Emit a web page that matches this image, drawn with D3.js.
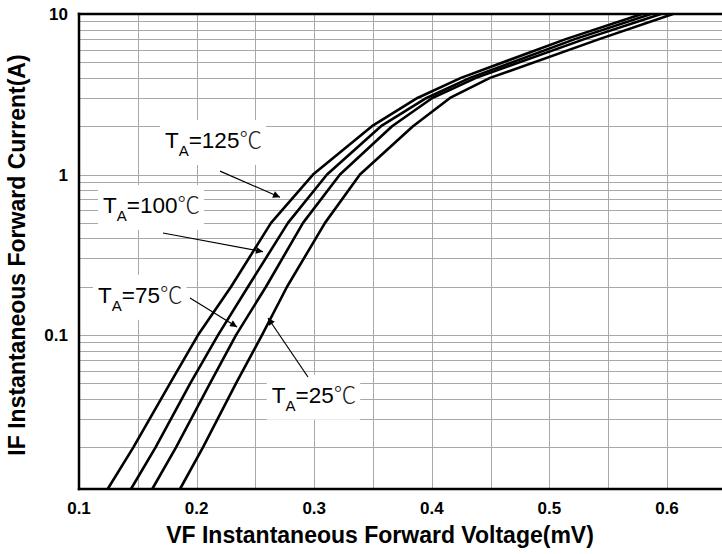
<!DOCTYPE html>
<html>
<head>
<meta charset="utf-8">
<script src="https://cdn.jsdelivr.net/npm/d3@7"></script>
<style>
  html, body { margin: 0; padding: 0; background: #fff; }
  svg { display: block; }
</style>
</head>
<body>
<svg id="chart" width="722" height="554"></svg>
<script>
// ---------------- data ----------------
const currents = [0.011, 0.02, 0.05, 0.1, 0.2, 0.5, 1, 2, 3, 4, 7, 10];
const vf125 = [0.1244, 0.1462, 0.1774, 0.2012, 0.2293, 0.2633, 0.2990, 0.3491, 0.3878, 0.4248, 0.5145, 0.5787];
const vf100 = [0.1442, 0.1651, 0.1946, 0.2182, 0.2437, 0.2777, 0.3109, 0.3568, 0.3955, 0.4325, 0.5222, 0.5864];
const vf75  = [0.1623, 0.1825, 0.2114, 0.2335, 0.2590, 0.2905, 0.3219, 0.3662, 0.4004, 0.4376, 0.5303, 0.5949];
const vf25  = [0.1859, 0.2054, 0.2335, 0.2556, 0.2769, 0.3092, 0.3389, 0.3840, 0.4155, 0.4495, 0.5430, 0.6051];
const seriesTemps = ["125", "100", "75", "25"];

const xTicks = [0.1, 0.2, 0.3, 0.4, 0.5, 0.6];
const xTickLabels = ["0.1", "0.2", "0.3", "0.4", "0.5", "0.6"];
const yTicks = [10, 1, 0.1];
const yTickLabels = ["10", "1", "0.1"];
const xTitle = "VF Instantaneous Forward Voltage(mV)";
const yTitle = "IF Instantaneous Forward Current(A)";

// annotation anchors in data units: [textV, textI, arrowFromV, arrowFromI, arrowToV, arrowToI]
const annotations = [
  [0.1731, 1.464, 0.2199, 1.05, 0.2709, 0.722],
  [0.1204, 0.576, 0.1714, 0.4325, 0.2565, 0.3307],
  [0.1162, 0.159, 0.1944, 0.1702, 0.2344, 0.1123],
  [0.2639, 0.0379, 0.2947, 0.0548, 0.2607, 0.1278]
];

// ---------------- layout ----------------
const L = 79, T = 14, B = 489;
const x = d3.scaleLinear().domain([0.1, 0.65]).range([L, L + 0.55 * 1176]);
const y = d3.scaleLog().domain([0.011, 10]).range([B, T]);
const R = x(0.65);

const svg = d3.select("#chart");
const font = "'Liberation Sans', Arial, Helvetica, sans-serif";

svg.append("defs").append("marker")
  .attr("id", "ah").attr("viewBox", "0 0 10 10")
  .attr("refX", 10).attr("refY", 5)
  .attr("markerWidth", 11).attr("markerHeight", 7)
  .attr("markerUnits", "userSpaceOnUse")
  .attr("orient", "auto")
  .append("path").attr("d", "M0,0 L10,5 L0,10 Z").attr("fill", "#000");

// grid
const grid = svg.append("g");
const vGrid = d3.range(0.15, 0.651, 0.05);
grid.selectAll("line.v").data(vGrid).join("line")
  .attr("x1", d => Math.round(x(d)) + 0.5).attr("x2", d => Math.round(x(d)) + 0.5)
  .attr("y1", T).attr("y2", B)
  .attr("stroke", "#a8a8a8").attr("stroke-width", 1);
const hGrid = [];
[0.01, 0.1, 1].forEach(dec => { for (let k = 1; k <= 9; k++) hGrid.push(dec * k); });
grid.selectAll("line.h").data(hGrid.filter(v => v > 0.0115 && v < 9.99)).join("line")
  .attr("x1", L).attr("x2", R)
  .attr("y1", d => Math.round(y(d)) + 0.5).attr("y2", d => Math.round(y(d)) + 0.5)
  .attr("stroke", "#a8a8a8").attr("stroke-width", 1);

// label boxes (white, hide grid)
const labelG = svg.append("g");
const labels = labelG.selectAll("g").data(annotations).join("g");
labels.each(function(a, i) {
  const g = d3.select(this);
  const tx = x(a[0]), ty = y(a[1]);
  const rect = g.append("rect").attr("fill", "#fff");
  const t = g.append("text")
    .attr("x", tx).attr("y", ty)
    .attr("font-family", font).attr("font-size", 22.5).attr("fill", "#000");
  t.append("tspan").text("T");
  t.append("tspan").attr("dy", 8).attr("font-size", 15).text("A");
  t.append("tspan").attr("dy", -8).text("=" + seriesTemps[i]);
  t.append("tspan").attr("font-family", "'Noto Sans CJK SC', 'DejaVu Sans', sans-serif").attr("font-weight", 300).attr("fill", "#222").text("\u2103");
  const bb = t.node().getBBox();
  rect.attr("x", bb.x - 5).attr("y", bb.y - 2).attr("width", bb.width + 9).attr("height", bb.height + 8);
});

// curves
const line = d3.line().x(d => x(d[0])).y(d => y(d[1]));
const series = [vf125, vf100, vf75, vf25].map(vs => vs.map((v, i) => [v, currents[i]]));
svg.append("g").selectAll("path").data(series).join("path")
  .attr("d", line)
  .attr("fill", "none").attr("stroke", "#000").attr("stroke-width", 2.6)
  .attr("stroke-linejoin", "round");

// arrows
svg.append("g").selectAll("line").data(annotations).join("line")
  .attr("x1", a => x(a[2])).attr("y1", a => y(a[3]))
  .attr("x2", a => x(a[4])).attr("y2", a => y(a[5]))
  .attr("stroke", "#000").attr("stroke-width", 1.2)
  .attr("marker-end", "url(#ah)");

// frame
svg.append("line").attr("x1", L).attr("x2", L).attr("y1", T - 1.2).attr("y2", B + 1.2)
  .attr("stroke", "#000").attr("stroke-width", 2.5);
svg.append("line").attr("x1", L - 1.2).attr("x2", R).attr("y1", T).attr("y2", T)
  .attr("stroke", "#000").attr("stroke-width", 2.5);
svg.append("line").attr("x1", L - 1.2).attr("x2", R).attr("y1", B).attr("y2", B)
  .attr("stroke", "#000").attr("stroke-width", 2.5);

// tick labels
svg.append("g").selectAll("text").data(xTicks).join("text")
  .attr("x", d => x(d)).attr("y", 514)
  .attr("text-anchor", "middle")
  .attr("font-family", font).attr("font-weight", "bold").attr("font-size", 17)
  .text((d, i) => xTickLabels[i]);
svg.append("g").selectAll("text").data(yTicks).join("text")
  .attr("x", 68).attr("y", d => y(d) + 6)
  .attr("text-anchor", "end")
  .attr("font-family", font).attr("font-weight", "bold").attr("font-size", 17)
  .text((d, i) => yTickLabels[i]);

// axis titles
svg.append("text").attr("x", 380).attr("y", 543)
  .attr("text-anchor", "middle")
  .attr("font-family", font).attr("font-weight", "bold").attr("font-size", 23)
  .text(xTitle);
svg.append("text")
  .attr("transform", "translate(25,255) rotate(-90)")
  .attr("text-anchor", "middle")
  .attr("font-family", font).attr("font-weight", "bold").attr("font-size", 23)
  .text(yTitle);
</script>
</body>
</html>
